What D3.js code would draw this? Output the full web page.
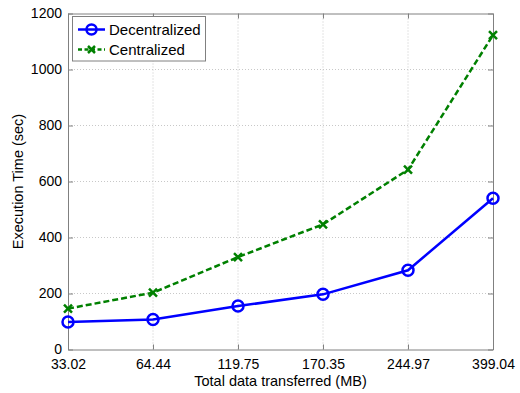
<!DOCTYPE html>
<html>
<head>
<meta charset="utf-8">
<script src="https://cdn.jsdelivr.net/npm/d3@7"></script>
<style>
  body { margin: 0; background: #fff; }
  text { font-family: "Liberation Sans", Arial, sans-serif; fill: #000; }
</style>
</head>
<body>
<div id="container"></div>
<script>
/* data */
const sizes = ["33.02", "64.44", "119.75", "170.35", "244.97", "399.04"];
const decentralized = [98, 107, 155, 197, 283, 540];
const centralized = [146, 203, 330, 447, 642, 1123];
const yTicks = [0, 200, 400, 600, 800, 1000, 1200];

const width = 520, height = 393,
    margin = {top: 13.5, left: 68, bottom: 43.5, right: 27};

const svg = d3.select("#container").append("svg")
    .attr("width", width)
    .attr("height", height);

// scales
const xScale = d3.scalePoint()
    .domain(sizes)
    .range([margin.left, width - margin.right]);

const yScale = d3.scaleLinear()
    .domain([0, 1200])
    .range([height - margin.bottom, margin.top]);

const x0 = margin.left, x1 = width - margin.right,
    y0 = height - margin.bottom, y1 = margin.top;

// grid
svg.append("g").selectAll("line.gx")
    .data(sizes.slice(1, -1))
    .join("line")
    .attr("x1", d => xScale(d)).attr("x2", d => xScale(d))
    .attr("y1", y0).attr("y2", y1)
    .attr("stroke", "#c8c8c8").attr("stroke-dasharray", "1,2");

svg.append("g").selectAll("line.gy")
    .data(yTicks.slice(1, -1))
    .join("line")
    .attr("x1", x0).attr("x2", x1)
    .attr("y1", d => yScale(d)).attr("y2", d => yScale(d))
    .attr("stroke", "#c8c8c8").attr("stroke-dasharray", "1,2");

// axes (ticks inside)
const axisColor = "#808080";
const xAxis = svg.append("g").attr("transform", `translate(0,${y0})`)
    .call(d3.axisBottom(xScale).tickSizeInner(-5).tickSizeOuter(0).tickPadding(10));
const xTop = svg.append("g").attr("transform", `translate(0,${y1})`)
    .call(d3.axisTop(xScale).tickSizeInner(-5).tickSizeOuter(0).tickFormat(""));
const yAxis = svg.append("g").attr("transform", `translate(${x0},0)`)
    .call(d3.axisLeft(yScale).tickValues(yTicks).tickFormat(d3.format("d"))
        .tickSizeInner(-5).tickSizeOuter(0).tickPadding(6));
const yRight = svg.append("g").attr("transform", `translate(${x1},0)`)
    .call(d3.axisRight(yScale).tickValues(yTicks).tickSizeInner(-5).tickSizeOuter(0).tickFormat(""));

[xAxis, xTop, yAxis, yRight].forEach(g => {
    g.select(".domain").attr("stroke", axisColor);
    g.selectAll(".tick line").attr("stroke", axisColor);
    g.selectAll(".tick text").attr("font-size", 14).attr("font-family", "Liberation Sans, Arial, sans-serif").attr("fill", "#000");
});

// labels
svg.append("text")
    .attr("x", (x0 + x1) / 2).attr("y", 386)
    .attr("text-anchor", "middle").attr("font-size", 14.5)
    .text("Total data transferred (MB)");

svg.append("text")
    .attr("transform", `translate(23,${(y0 + y1) / 2}) rotate(-90)`)
    .attr("text-anchor", "middle").attr("font-size", 14.5)
    .text("Execution Time (sec)");

// lines
const line = d3.line()
    .x((d, i) => xScale(sizes[i]))
    .y(d => yScale(d));

svg.append("path").datum(centralized)
    .attr("d", line).attr("fill", "none")
    .attr("stroke", "#008000").attr("stroke-width", 2.5)
    .attr("stroke-dasharray", "6,3");

svg.append("path").datum(decentralized)
    .attr("d", line).attr("fill", "none")
    .attr("stroke", "#0000ff").attr("stroke-width", 2.5);

// markers
svg.append("g").selectAll("circle")
    .data(decentralized)
    .join("circle")
    .attr("cx", (d, i) => xScale(sizes[i]))
    .attr("cy", d => yScale(d))
    .attr("r", 5.5)
    .attr("fill", "none").attr("stroke", "#0000ff").attr("stroke-width", 2.5);

const crossPath = "M-4,-4L4,4M-4,4L4,-4";
svg.append("g").selectAll("path")
    .data(centralized)
    .join("path")
    .attr("transform", (d, i) => `translate(${xScale(sizes[i])},${yScale(d)})`)
    .attr("d", crossPath)
    .attr("stroke", "#008000").attr("stroke-width", 2.5);

// legend
const legend = svg.append("g");
legend.append("rect")
    .attr("x", 72.5).attr("y", 16.5).attr("width", 133).attr("height", 44.5)
    .attr("fill", "#fff").attr("stroke", axisColor);

const legendItems = [
    {name: "Decentralized", color: "#0000ff", dash: null, marker: "circle"},
    {name: "Centralized", color: "#008000", dash: "4,2.5", marker: "cross"}
];

legendItems.forEach((item, i) => {
    const cy = 29.5 + i * 20;
    legend.append("line")
        .attr("x1", 78).attr("x2", 105).attr("y1", cy).attr("y2", cy)
        .attr("stroke", item.color).attr("stroke-width", 2.5)
        .attr("stroke-dasharray", item.dash);
    if (item.marker === "circle") {
        legend.append("circle").attr("cx", 91.5).attr("cy", cy).attr("r", 5)
            .attr("fill", "none").attr("stroke", item.color).attr("stroke-width", 2.5);
    } else {
        legend.append("path").attr("transform", `translate(91.5,${cy})`)
            .attr("d", "M-3.5,-3.5L3.5,3.5M-3.5,3.5L3.5,-3.5")
            .attr("stroke", item.color).attr("stroke-width", 2.5);
    }
    legend.append("text")
        .attr("x", 109).attr("y", cy + 5.5)
        .attr("font-size", 15)
        .text(item.name);
});
</script>
</body>
</html>
